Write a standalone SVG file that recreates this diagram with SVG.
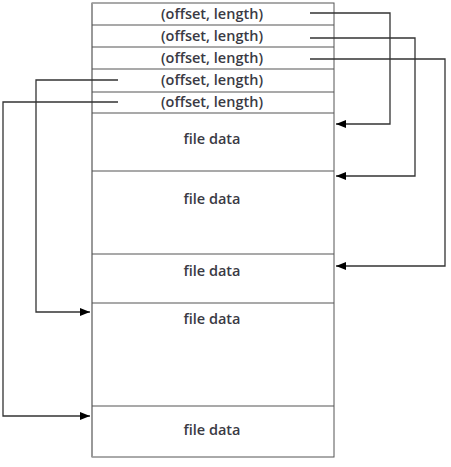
<svg xmlns="http://www.w3.org/2000/svg" width="451" height="467" viewBox="0 0 451 467">
<style>
.box{fill:#fff;stroke:#555;stroke-width:1}
.sep{stroke:#555;stroke-width:1.2}
.t{font-family:"Open Sans","Liberation Sans",sans-serif;font-size:14.5px;font-weight:600;fill:#3a3a44;text-anchor:middle;dominant-baseline:central}
.c{fill:none;stroke:#333;stroke-width:1.3}
</style>
<defs>
<marker id="ah" markerWidth="10" markerHeight="8" refX="10" refY="4" orient="auto" markerUnits="userSpaceOnUse">
<path d="M0,0 L10,4 L0,8 z" fill="#000"/>
</marker>
</defs>
<rect width="451" height="467" fill="#fff"/>
<g id="table">
<rect class="box" x="92" y="3" width="242" height="454"/>
<line x1="92" y1="3" x2="92" y2="457" stroke="#999" stroke-width="2"/>
</g>
<g id="row1"><text class="t" x="212" y="13">(offset, length)</text></g>
<g id="row2"><line class="sep" x1="92" y1="25" x2="334" y2="25"/><text class="t" x="212" y="35">(offset, length)</text></g>
<g id="row3"><line class="sep" x1="92" y1="47" x2="334" y2="47"/><text class="t" x="212" y="57">(offset, length)</text></g>
<g id="row4"><line class="sep" x1="92" y1="69" x2="334" y2="69"/><text class="t" x="212" y="79">(offset, length)</text></g>
<g id="row5"><line class="sep" x1="92" y1="92" x2="334" y2="92"/><text class="t" x="212" y="101">(offset, length)</text></g>
<g id="data1"><line class="sep" x1="92" y1="113" x2="334" y2="113"/><text class="t" x="212" y="138">file data</text></g>
<g id="data2"><line class="sep" x1="92" y1="171" x2="334" y2="171"/><text class="t" x="212" y="198">file data</text></g>
<g id="data3"><line class="sep" x1="92" y1="254" x2="334" y2="254"/><text class="t" x="212" y="270">file data</text></g>
<g id="data4"><line class="sep" x1="92" y1="303" x2="334" y2="303"/><text class="t" x="212" y="318">file data</text></g>
<g id="data5"><line class="sep" x1="92" y1="406" x2="334" y2="406"/><text class="t" x="212" y="429">file data</text></g>
<g id="connectors">
<polyline class="c" points="310,13 390,13 390,124 336,124" marker-end="url(#ah)"/>
<polyline class="c" points="310,38 415,38 415,176 336,176" marker-end="url(#ah)"/>
<polyline class="c" points="310,59 445,59 445,266 336,266" marker-end="url(#ah)"/>
<polyline class="c" points="118,80 36,80 36,312 90,312" marker-end="url(#ah)"/>
<polyline class="c" points="118,102 3,102 3,416 90,416" marker-end="url(#ah)"/>
</g>
</svg>
